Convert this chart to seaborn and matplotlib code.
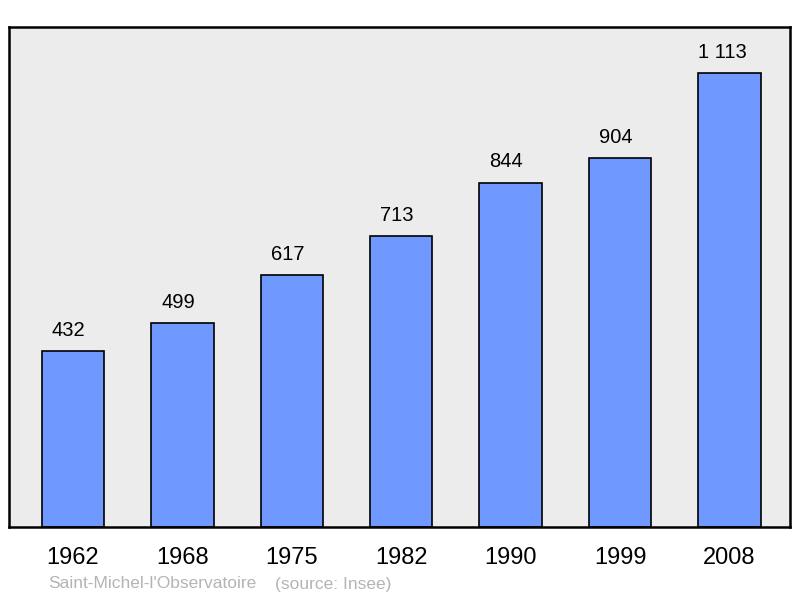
import matplotlib
matplotlib.use("Agg")
import matplotlib.pyplot as plt
import seaborn as sns
import pandas as pd

years = ["1962", "1968", "1975", "1982", "1990", "1999", "2008"]
population = [432, 499, 617, 713, 844, 904, 1113]
value_labels = ["432", "499", "617", "713", "844", "904", "1 113"]
place = "Saint-Michel-l'Observatoire"
source = "(source: Insee)"

sns.set_theme(style="white")
plt.rcParams["font.family"] = ["Liberation Sans", "DejaVu Sans"]

df = pd.DataFrame({"year": years, "pop": population})

fig = plt.figure(figsize=(8.0, 5.98), dpi=100)
ax = fig.add_axes([9 / 800, (598 - 527) / 598, (790 - 9) / 800, (527 - 27) / 598])
ax.set_facecolor("#ececec")

sns.barplot(data=df, x="year", y="pop", color="#7099ff", saturation=1,
            width=0.57, edgecolor="black", linewidth=1.2, ax=ax)

for i, (v, lab) in enumerate(zip(population, value_labels)):
    off = 0.065 if " " in lab else 0.04
    ax.text(i - off, v + 27, lab, ha="center", va="bottom", fontsize=14.5, color="black")

ax.set_ylim(0, 1225)
ax.set_xlim(-0.585, 6.553)
ax.set_yticks([])
ax.set_xlabel("")
ax.set_ylabel("")
ax.tick_params(axis="x", length=0, pad=14.5, labelsize=17, colors="black")
for s in ax.spines.values():
    s.set_visible(True)
    s.set_color("black")
    s.set_linewidth(1.8)

fig.text(48 / 800, 1 - 584 / 598, place, ha="left", va="center",
         fontsize=12.5, color="#b4b4b4")
fig.text(275 / 800, 1 - 584 / 598, source, ha="left", va="center",
         fontsize=12.5, color="#b4b4b4")

fig.savefig("out.png", dpi=100)
